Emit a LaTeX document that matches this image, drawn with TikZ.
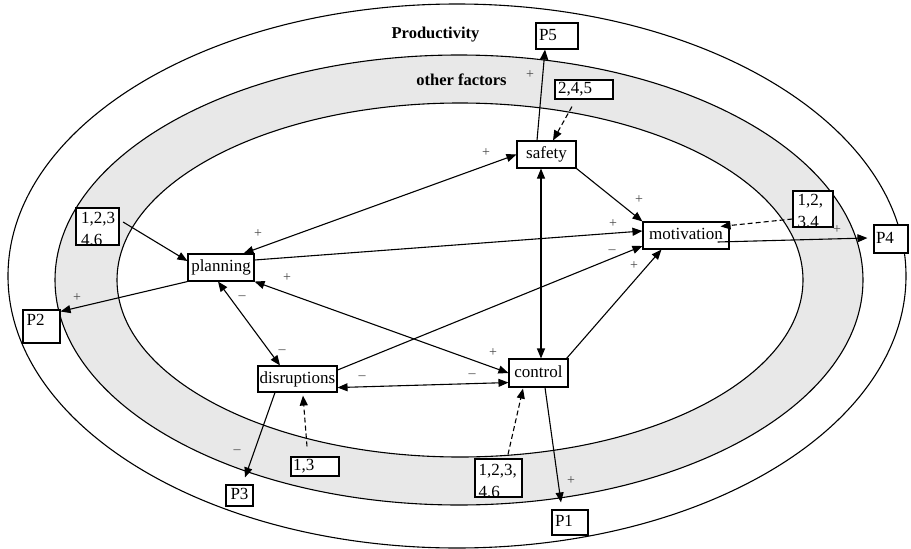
\documentclass[tikz,border=0pt]{standalone}
\usepackage{fontspec}
\setmainfont{Liberation Serif}
\usetikzlibrary{arrows.meta}
\definecolor{band}{RGB}{232,232,232}
\definecolor{sign}{RGB}{70,70,70}
\tikzset{
  ln/.style={line width=1.1pt},
  tip/.tip={Triangle[length=10pt,width=8pt]},
  arr/.style={ln, -tip},
  darr/.style={ln, tip-tip},
  dsh/.style={arr, dash pattern=on 5pt off 3pt},
  fbox/.style={draw, line width=1.1pt, fill=white, inner sep=0pt,
    font=\fontsize{17}{22}\selectfont, text height=11.5pt, text depth=3.5pt},
  sgn/.style={text=sign, font=\fontsize{14}{14}\selectfont, inner sep=0pt},
  ttl/.style={font=\bfseries\fontsize{16.5}{16.5}\selectfont, inner sep=0pt},
  intext/.style={anchor=north west, inner sep=0pt, align=left,
    font=\fontsize{17}{22}\selectfont},
}
\begin{document}
\begin{tikzpicture}[x=1pt,y=-1pt]
\useasboundingbox (0,0) rectangle (911,549);
% ellipses
\fill[band, even odd rule] (459,280) ellipse [x radius=404pt, y radius=225pt]
  (460,280) ellipse [x radius=343pt, y radius=177pt];
\draw[ln] (457,276) ellipse [x radius=449pt, y radius=272pt];
\draw[ln] (459,280) ellipse [x radius=404pt, y radius=225pt];
\draw[ln] (460,280) ellipse [x radius=343pt, y radius=177pt];
% titles
\node[ttl] (prod) at (435.5,35) {Productivity};
\node[ttl] (oth) at (461.5,80) {other factors};
% boxes
\node[fbox, minimum width=42pt, minimum height=26pt, text width=36pt, align=left] (P5) at (557,36) {P5};
\node[fbox, minimum width=58pt, minimum height=19pt, text width=52pt, align=left] (f245) at (584,89.5) {2,4,5};
\node[fbox, minimum width=59pt, minimum height=27pt] (safety) at (546.5,154.5) {safety};
\node[fbox, minimum width=66pt, minimum height=27pt] (planning) at (221,267.5) {planning};
\node[fbox, minimum width=86pt, minimum height=27pt] (motivation) at (686,235.5) {motivation};
\node[fbox, minimum width=79pt, minimum height=26pt] (disruptions) at (297.5,379) {disruptions};
\node[fbox, minimum width=59pt, minimum height=28pt] (control) at (538.5,373) {control};
\node[fbox, minimum width=34pt, minimum height=28pt, text width=30pt, align=left] (P4) at (891,239) {P4};
\node[fbox, minimum width=27pt, minimum height=21pt] (P3) at (239.5,495.5) {P3};
\node[fbox, minimum width=36pt, minimum height=25pt, text width=30pt, align=left] (P1) at (570,522.5) {P1};
\node[fbox, minimum width=48pt, minimum height=19pt, text width=44pt, align=left] (f13) at (315,466.5) {1,3};
\node[fbox, minimum width=37pt, minimum height=33pt] (P2) at (41.5,326.5) {};
\node[fbox, minimum width=43pt, minimum height=37pt] (fL) at (97.5,226.5) {};
\node[fbox, minimum width=40pt, minimum height=36pt] (fR) at (813,209) {};
\node[fbox, minimum width=47pt, minimum height=38pt] (fB) at (498.5,478) {};
% box texts, clipped to their boxes
\begin{scope}
  \clip (P2.south west) rectangle (P2.north east);
  \node[intext] (P2t) at ([xshift=4pt,yshift=-5pt]P2.north west) {P2};
\end{scope}
\begin{scope}
  \clip (fL.south west) rectangle (fL.north east);
  \node[intext] (fLt) at ([xshift=5.5pt,yshift=-5pt]fL.north west) {1,2,3\\4,6};
\end{scope}
\begin{scope}
  \clip (fR.south west) rectangle (fR.north east);
  \node[intext] (fRt) at ([xshift=5pt,yshift=-4pt]fR.north west) {1,2,\\3,4};
\end{scope}
\begin{scope}
  \clip (fB.south west) rectangle (fB.north east);
  \node[intext] (fBt) at ([xshift=4pt,yshift=-6pt]fB.north west) {1,2,3,\\4,6};
\end{scope}
\draw[ln] (P2.south west) rectangle (P2.north east);
\draw[ln] (fL.south west) rectangle (fL.north east);
\draw[ln] (fR.south west) rectangle (fR.north east);
\draw[ln] (fB.south west) rectangle (fB.north east);
% connectors
\draw[arr] ([xshift=-9.5pt]safety.north) -- ([xshift=-12pt]P5.south);
\draw[dsh] ([xshift=-12pt,yshift=-7pt]f245.south) -- ([xshift=6.5pt]safety.north);
\draw[darr] ([xshift=-11pt]planning.north east) -- (safety.west);
\draw[arr] (safety.south east) -- (motivation.north west);
\draw[arr] ([yshift=7.5pt]planning.east) -- ([yshift=4.5pt]motivation.west);
\draw[arr] ([yshift=9pt]disruptions.east) -- ([yshift=-10.5pt]motivation.west);
\draw[arr] ([xshift=-2pt]control.north east) -- ([xshift=19pt]motivation.south west);
\draw[dsh] ([yshift=-10pt]fR.west) -- ([xshift=-9pt,yshift=-5pt]motivation.north east);
\draw[arr] ([xshift=-12pt,yshift=-6.5pt]motivation.east) -- ([xshift=-6pt,yshift=1pt]P4.west);
\draw[darr] (planning.south east) -- (control.west);
\draw[darr] ([xshift=-3pt]planning.south) -- ([xshift=-17.5pt]disruptions.north);
\draw[darr] ([yshift=5pt]disruptions.south east) -- ([yshift=5pt]control.south west);
\draw[darr] ([xshift=-5.5pt]safety.south) -- ([xshift=2.5pt]control.north);
\draw[arr] (planning.south west) -- ([yshift=-2pt]P2.north east);
\draw[arr] ([xshift=3.5pt,yshift=4.5pt]fL.east) -- ([yshift=6.5pt]planning.west);
\draw[arr] ([xshift=-22.5pt]disruptions.south) -- ([xshift=5.5pt,yshift=7pt]P3.north);
\draw[dsh] ([xshift=-8pt,yshift=10pt]f13.north) -- ([xshift=5.5pt,yshift=-3pt]disruptions.south);
\draw[dsh] ([xshift=9.5pt,yshift=4pt]fB.north) -- ([xshift=-15.5pt,yshift=-1pt]control.south);
\draw[arr] ([xshift=6.5pt]control.south) -- ([xshift=-9pt,yshift=7pt]P1.north);
% signs
\node[sgn] (s1) at (530,75) {+};
\node[sgn] (s2) at (486,153) {+};
\node[sgn] (s3) at (258,234) {+};
\node[sgn] (s4) at (639,200) {+};
\node[sgn] (s5) at (613,224) {+};
\node[sgn] (s6) at (612,252) {–};
\node[sgn] (s7) at (634,266) {+};
\node[sgn] (s8) at (837,230) {+};
\node[sgn] (s9) at (287,278) {+};
\node[sgn] (s10) at (493,353) {+};
\node[sgn] (s11) at (242,298) {–};
\node[sgn] (s12) at (282,352) {–};
\node[sgn] (s13) at (362,378) {–};
\node[sgn] (s14) at (472,376) {–};
\node[sgn] (s15) at (77,298) {+};
\node[sgn] (s16) at (237,452) {–};
\node[sgn] (s17) at (571,481) {+};
\end{tikzpicture}
\end{document}
